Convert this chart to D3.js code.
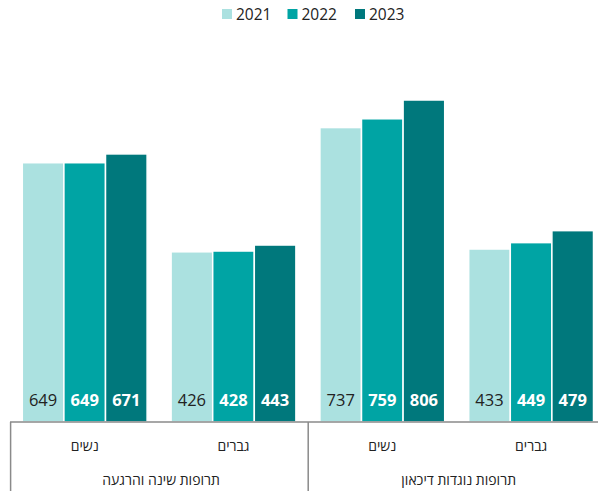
<!DOCTYPE html>
<html>
<head>
<meta charset="utf-8">
<script src="https://cdn.jsdelivr.net/npm/d3@7"></script>
<style>
  html, body { margin: 0; padding: 0; background: #fff; }
  svg { display: block; font-family: "Open Sans", "DejaVu Sans", sans-serif; }
</style>
</head>
<body>
<svg id="chart" width="598" height="491"></svg>
<script>
const years = ["2021", "2022", "2023"];
const outerGroups = ["תרופות שינה והרגעה", "תרופות נוגדות דיכאון"];
const innerGroups = ["נשים", "גברים"];
const values2021 = [649, 426, 737, 433];
const values2022 = [649, 428, 759, 449];
const values2023 = [671, 443, 806, 479];
const colors = ["#abe1e0", "#00a4a4", "#00787c"];
const labelColors = ["#222222", "#ffffff", "#ffffff"];
const labelWeights = ["400", "700", "700"];

const series = [values2021, values2022, values2023];
const cells = [];
outerGroups.forEach((o, oi) => innerGroups.forEach((g, gi) => cells.push({ key: oi + "-" + gi, outer: o, inner: g, idx: oi * 2 + gi })));

const svg = d3.select("#chart");
const baseY = 422;
const y = d3.scaleLinear().domain([0, 806]).range([baseY, 100]);

const x0 = d3.scaleBand().domain(cells.map(c => c.key)).range([10.3, 605.5]).paddingInner(0).paddingOuter(0);
const x1 = d3.scaleBand().domain(years).range([12, x0.bandwidth() - 12]).paddingInner(0);

const g = svg.append("g");
cells.forEach(c => {
  const gx = x0(c.key);
  years.forEach((yr, yi) => {
    const v = series[yi][c.idx];
    g.append("rect")
      .attr("x", gx + x1(yr))
      .attr("y", y(v))
      .attr("width", x1.bandwidth())
      .attr("height", baseY - y(v))
      .attr("fill", colors[yi])
      .attr("stroke", "#ffffff")
      .attr("stroke-width", 1.5);
    g.append("text")
      .attr("x", gx + x1(yr) + x1.bandwidth() / 2)
      .attr("y", 406)
      .attr("text-anchor", "middle")
      .attr("font-size", 16.5)
      .attr("font-weight", labelWeights[yi])
      .attr("fill", labelColors[yi])
      .text(v);
  });
  svg.append("text")
    .attr("x", gx + x0.bandwidth() / 2)
    .attr("y", 451)
    .attr("text-anchor", "middle")
    .attr("font-size", 14)
    .attr("fill", "#222")
    .text(c.inner);
});

// axis lines
const axisColor = "#8a8a8a";
svg.append("line").attr("x1", 10).attr("x2", 598).attr("y1", baseY).attr("y2", baseY)
  .attr("stroke", axisColor).attr("stroke-width", 1.5);
const outerX = d3.scaleBand().domain(outerGroups).range([10.3, 605.5]);
outerGroups.forEach(o => {
  svg.append("line").attr("x1", outerX(o) + 0.3).attr("x2", outerX(o) + 0.3)
    .attr("y1", baseY).attr("y2", 491).attr("stroke", axisColor).attr("stroke-width", 1.5);
  svg.append("text")
    .attr("x", outerX(o) + outerX.bandwidth() / 2 + 2)
    .attr("y", 485)
    .attr("text-anchor", "middle")
    .attr("font-size", 14)
    .attr("fill", "#222")
    .text(o);
});

// legend
const legendX = [222, 287.5, 355];
years.forEach((yr, i) => {
  svg.append("rect").attr("x", legendX[i]).attr("y", 9).attr("width", 10).attr("height", 10).attr("fill", colors[i]);
  svg.append("text").attr("x", legendX[i] + 14).attr("y", 19.5)
    .attr("font-size", 15.5).attr("fill", "#222").text(yr);
});
</script>
</body>
</html>
